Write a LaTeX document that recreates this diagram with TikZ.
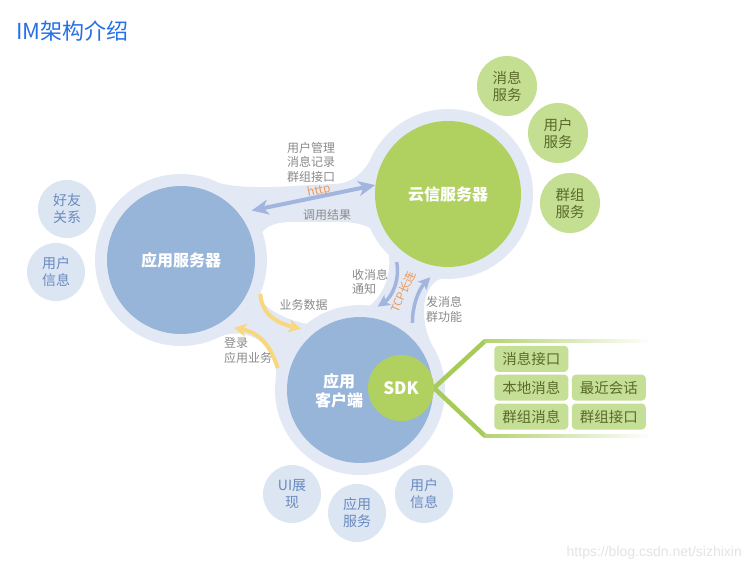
\documentclass[tikz,border=0pt]{standalone}
\usepackage{fontspec}
\setmainfont{Noto Sans CJK SC}
\newfontfamily\wmfont{Liberation Sans}
\usetikzlibrary{arrows.meta}
\definecolor{colHalo}{HTML}{E2E9F5}
\definecolor{colBlue}{HTML}{97B4D9}
\definecolor{colGreen}{HTML}{B0D160}
\definecolor{colBubB}{HTML}{DCE5F2}
\definecolor{colBubBtxt}{HTML}{6A8AC0}
\definecolor{colBubG}{HTML}{C4DE92}
\definecolor{colBubGtxt}{HTML}{5A6A2A}
\definecolor{colBox}{HTML}{C6DF97}
\definecolor{colLbl}{HTML}{8A8A8A}
\definecolor{colOrg}{HTML}{EE9A58}
\definecolor{colArrB}{HTML}{A2B5DF}
\definecolor{colArrY}{HTML}{F8D77F}
\definecolor{colTitle}{HTML}{2470E8}
\definecolor{colBrk}{HTML}{A6CB57}
\definecolor{colWm}{HTML}{E4E4E4}
\tikzset{
  halocirc/.style={circle, fill=colHalo, inner sep=0pt, minimum size=#1},
  bigblue/.style={circle, fill=colBlue, inner sep=0pt, minimum size=148pt, text=white, font=\fontsize{16}{19}\selectfont\bfseries, align=center},
  biggreen/.style={circle, fill=colGreen, inner sep=0pt, minimum size=146pt, text=white, font=\fontsize{16}{19}\selectfont\bfseries, align=center},
  sdkcirc/.style={circle, fill=colGreen, inner sep=0pt, minimum size=66pt, text=white, font=\fontsize{17}{20}\selectfont\bfseries},
  bubblue/.style={circle, fill=colBubB, inner sep=0pt, minimum size=58pt, text=colBubBtxt, font=\fontsize{14}{17}\selectfont, align=center},
  bubgreen/.style={circle, fill=colBubG, inner sep=0pt, minimum size=60pt, text=colBubGtxt, font=\fontsize{14.5}{17}\selectfont, align=center},
  sdkbox/.style={rounded corners=4pt, fill=colBox, inner sep=0pt, minimum width=74pt, minimum height=26pt, text=colBubGtxt, font=\fontsize{14.5}{17}\selectfont},
  lbl/.style={text=colLbl, font=\fontsize{12}{14.5}\selectfont, inner sep=0pt},
  orglbl/.style={text=colOrg, font=\fontsize{12}{14}\selectfont, inner sep=0pt},
  httparrow/.style={draw=colArrB, line width=4pt, {Stealth[length=17pt,width=15pt,inset=5pt]}-{Stealth[length=17pt,width=15pt,inset=5pt]}},
  tcparrow/.style={draw=colArrB, line width=3.5pt, -{Stealth[length=12pt,width=12pt,inset=3pt]}},
  yarrow/.style={draw=colArrY, line width=4pt, -{Stealth[length=12pt,width=13pt,inset=3pt]}},
  bracket/.style={draw=colBrk, line width=4.5pt, line join=miter}
}
\begin{document}
\begin{tikzpicture}[x=1pt,y=-1pt]
\useasboundingbox (0,0) rectangle (751,572);
\fill[white] (0,0) rectangle (751,572);

% ---- connecting bands ----
\fill[colHalo] (181,260) -- (448,194) -- (360,390) -- cycle;
\fill[colHalo] (181,260) -- (212,181) .. controls (245,192) and (295,185) .. (335,184)
   .. controls (358,183) and (368,165) .. (376,150) -- (448,194) -- cycle;
\fill[colHalo] (181,260) -- (218.5,337.5) -- (236,373.5) -- (275.7,378.8) -- (360,390) -- cycle;
\fill[white] (236,373.5) circle (40);
\fill[colHalo] (448,194) -- (440,279) .. controls (428,284) and (423,300) .. (424,315)
   .. controls (425,328) and (428,336) .. (431,343) -- (360,390) -- cycle;
\fill[white] (250,250) -- (258,238) .. controls (266,224) and (278,222) .. (295,222) -- (340,222)
   .. controls (370,222) and (386,234) .. (389,256) .. controls (391,278) and (382,296) .. (368,307)
   -- (340,330) -- (318,326) .. controls (292,322) and (266,312) .. (258,295) -- cycle;

% ---- halos ----
\node[halocirc=172pt] (hS) at (181,260) {};
\node[halocirc=170pt] (hC) at (448,194) {};
\node[halocirc=170pt] (hK) at (360,390) {};

% ---- main circles ----
\node[bigblue] (appsrv) at (181,260) {应用服务器};
\node[biggreen] (yunxin) at (448,194) {云信服务器};
\node[bigblue, minimum size=146pt] (client) at (360,390) {};
\node[text=white, font=\fontsize{16}{19}\selectfont\bfseries, align=center, inner sep=0pt] (clientlbl) at (339,391) {应用\\客户端};

% ---- SDK bracket ----
\coordinate (brkTop) at (485,341);
\coordinate (brkBot) at (485,436);
\coordinate (brkApex) at (434,388);
\draw[bracket] (brkTop) -- (brkApex) -- (brkBot);
\shade[left color=colBrk!85, right color=white] (484,339.3) rectangle (652,342.7);
\shade[left color=colBrk!85, right color=white] (484,434.3) rectangle (652,437.7);
\node[sdkcirc] (sdk) at (401,388) {SDK};

% ---- SDK boxes ----
\node[sdkbox] (b1) at (531.3,358.8) {消息接口};
\node[sdkbox] (b2) at (531.3,387.6) {本地消息};
\node[sdkbox] (b3) at (608.8,387.6) {最近会话};
\node[sdkbox] (b4) at (531.3,416.5) {群组消息};
\node[sdkbox] (b5) at (608.8,416.5) {群组接口};

% ---- arrows ----
\draw[httparrow] (hS.35) -- (yunxin.173);
\draw[tcparrow] (hC.233) .. controls (400,280) and (392,297) .. (hK.78);
\draw[tcparrow] (hK.52) .. controls (412,308) and (418,290) .. (hC.258);
\draw[yarrow] (hS.337) .. controls (261,310) and (272,322) .. (hK.134);
\draw[yarrow] (hK.165) .. controls (272,350) and (262,333) .. (hS.308.5);

% ---- labels ----
\node[lbl, align=center] (l1) at (311,162) {用户管理\\消息记录\\群组接口};
\node[orglbl, rotate=11.5] (lhttp) at (319,191) {http};
\node[lbl] (l2) at (327,215) {调用结果};
\node[lbl, align=left, anchor=west] (l3) at (352,282) {收消息\\通知};
\node[orglbl, rotate=66, font=\fontsize{11.5}{13}\selectfont] (ltcp) at (403,292) {TCP长连};
\node[lbl, align=left, anchor=west] (l4) at (426,309.5) {发消息\\群功能};
\node[lbl] (l5) at (303.5,305) {业务数据};
\node[lbl, align=left, anchor=west] (l6) at (224,350.5) {登录\\应用业务};

% ---- bubbles ----
\node[bubblue] (friend) at (67,209) {好友\\关系};
\node[bubblue] (uinfoL) at (56,272) {用户\\信息};
\node[bubgreen] (msgsvc) at (507,86) {消息\\服务};
\node[bubgreen] (usersvc) at (558,133) {用户\\服务};
\node[bubgreen] (grpsvc) at (570,203) {群组\\服务};
\node[bubblue] (ui) at (292,494) {UI展\\现};
\node[bubblue] (appsvc) at (357,513) {应用\\服务};
\node[bubblue] (uinfoB) at (424,494) {用户\\信息};

% ---- title & watermark ----
\node[anchor=west, text=colTitle, font=\fontsize{22}{25}\selectfont, inner sep=0pt] (title) at (16,31) {IM架构介绍};
\node[anchor=east, text=colWm, font=\wmfont\fontsize{14}{16}\selectfont, inner sep=0pt] (wm) at (742,553) {https://blog.csdn.net/sizhixin};
\end{tikzpicture}
\end{document}
